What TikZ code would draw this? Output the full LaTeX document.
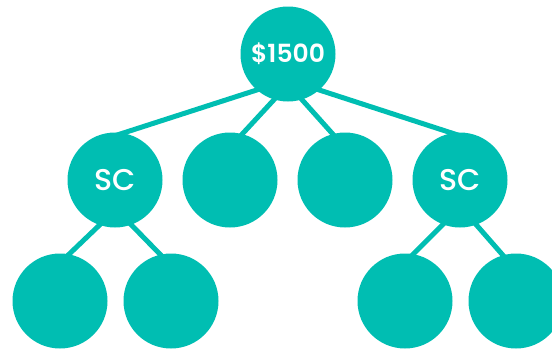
\documentclass[tikz,border=0pt]{standalone}
\usepackage{fontspec}
\setmainfont{Poppins}
\IfFontExistsTF{Poppins Medium}
  {\newfontfamily\labelfont{Poppins Medium}}
  {\newfontfamily\labelfont{Poppins}[FakeBold=1.2]}
\IfFontExistsTF{Poppins SemiBold}
  {\newfontfamily\pricefont{Poppins SemiBold}}
  {\newfontfamily\pricefont{Poppins}[FakeBold=2]}
\usetikzlibrary{positioning, backgrounds}

\begin{document}
\begin{tikzpicture}[x=1pt, y=-1pt]

% Define teal color
\definecolor{tealgreen}{RGB}{0,190,178}

% Styles for the tree
\tikzset{
  bubble/.style={circle, fill=tealgreen, minimum size=95pt, inner sep=0pt, text=white},
  branch/.style={line width=5pt, tealgreen, shorten <=-10pt, shorten >=-10pt}
}

% Fix the canvas
\useasboundingbox (0,0) rectangle (552,349);

% Root
\node[bubble, font=\pricefont\fontsize{25}{25}\selectfont] (root) at (288,54) {\$1500};

% Second row
\node[bubble, font=\labelfont\fontsize{30}{30}\selectfont] (scLeft) at (115,180) {SC};
\node[bubble] (midLeft) at (230,180) {};
\node[bubble] (midRight) at (345,180) {};
\node[bubble, font=\labelfont\fontsize{30}{30}\selectfont] (scRight) at (460,180) {SC};

% Third row
\node[bubble] (leafA) at (60,301) {};
\node[bubble] (leafB) at (171,301) {};
\node[bubble] (leafC) at (405,301) {};
\node[bubble] (leafD) at (516,301) {};

\begin{scope}[on background layer]
% Branches from the root
\draw[branch, shorten >=-20pt] (root.229) -- (scLeft.80);
\draw[branch] (root.253) -- (midLeft.75);
\draw[branch] (root.287) -- (midRight.105);
\draw[branch, shorten >=-20pt] (root.311) -- (scRight.100);

% Branches below SC nodes
\draw[branch] (scLeft.251) -- (leafA.79);
\draw[branch] (scLeft.290) -- (leafB.103);
\draw[branch] (scRight.249) -- (leafC.80);
\draw[branch] (scRight.290) -- (leafD.106);
\end{scope}

\end{tikzpicture}
\end{document}
